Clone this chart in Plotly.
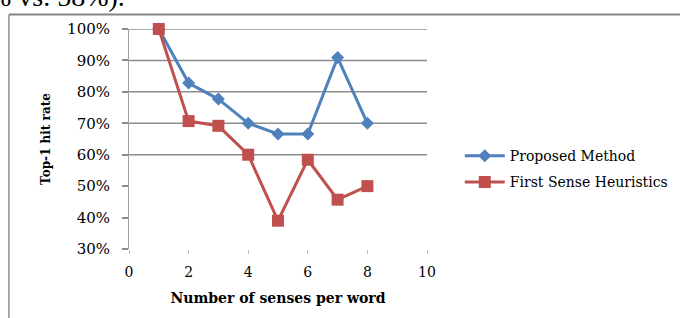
import plotly.graph_objects as go

x_vals = [1, 2, 3, 4, 5, 6, 7, 8]
proposed = [1.00, 0.828, 0.777, 0.70, 0.666, 0.666, 0.909, 0.70]
first_sense = [1.00, 0.707, 0.692, 0.60, 0.39, 0.584, 0.457, 0.50]
y_ticks = [0.3, 0.4, 0.5, 0.6, 0.7, 0.8, 0.9, 1.0]
y_tick_labels = ["30%", "40%", "50%", "60%", "70%", "80%", "90%", "100%"]
x_ticks = [0, 2, 4, 6, 8, 10]
grid_levels = [0.6, 0.7, 0.8, 0.9, 1.0]

serif = "DejaVu Serif, serif"

fig = go.Figure()
fig.add_trace(go.Scatter(
    x=x_vals, y=proposed, name="Proposed Method", mode="lines+markers",
    legendgroup="a",
    line=dict(color="#4F81BD", width=3),
    marker=dict(symbol="diamond", size=10, color="#4F81BD"),
    cliponaxis=False))
fig.add_trace(go.Scatter(
    x=x_vals, y=first_sense, name="First Sense Heuristics", mode="lines+markers",
    legendgroup="b",
    line=dict(color="#C0504D", width=3),
    marker=dict(symbol="square", size=12, color="#C0504D"),
    cliponaxis=False))

shapes = []
for g in grid_levels:
    shapes.append(dict(type="line", xref="paper", yref="y", x0=0, x1=1, y0=g, y1=g,
                       line=dict(color="#8c8c8c", width=1.5), layer="below"))
# outer frame (top and left edges visible)
shapes.append(dict(type="line", xref="paper", yref="paper", x0=-0.403, x1=1.85,
                   y0=1.066, y1=1.066, line=dict(color="#858585", width=2)))
shapes.append(dict(type="line", xref="paper", yref="paper", x0=-0.403, x1=-0.403,
                   y0=-0.5, y1=1.066, line=dict(color="#909090", width=1.5)))

fig.update_layout(
    width=680, height=318,
    margin=dict(l=129, r=253, t=29, b=69, autoexpand=False),
    paper_bgcolor="white", plot_bgcolor="white",
    font=dict(family=serif, color="black"),
    shapes=shapes,
    showlegend=True,
    legend=dict(x=1.11, y=0.495, xanchor="left", yanchor="top",
                traceorder="grouped",
                font=dict(family=serif, size=14, color="black"),
                bgcolor="rgba(0,0,0,0)", tracegroupgap=5, itemwidth=40),
    xaxis=dict(range=[0, 10], tickvals=x_ticks, ticktext=[str(v) for v in x_ticks],
               showgrid=False, zeroline=False, showline=False, automargin=False,
               ticks="outside", ticklen=4, tickcolor="#bbbbbb",
               tickfont=dict(family=serif, size=14), ticklabelstandoff=6,
               title=dict(text="<b>Number of senses per word</b>",
                          font=dict(family=serif, size=14), standoff=14)),
    yaxis=dict(range=[0.3, 1.0], tickvals=y_ticks, ticktext=y_tick_labels,
               showgrid=False, zeroline=False, showline=True, linecolor="#a0a0a0",
               linewidth=1, automargin=False,
               ticks="outside", ticklen=6, tickcolor="#8c8c8c", tickwidth=1.5,
               tickfont=dict(family=serif, size=15), ticklabelstandoff=9,
               title=dict(text="<b>Top-1 hit rate</b>",
                          font=dict(family=serif, size=12), standoff=13)),
    annotations=[dict(text="% vs. 58%).", xref="paper", yref="paper",
                      x=-0.48, y=1.07, xanchor="left", yanchor="bottom",
                      showarrow=False, font=dict(family="Liberation Serif, serif", size=28, color="black"))],
)

fig.write_html("out.html", post_script="document.body.style.margin='0';",
               config={"displayModeBar": False})
